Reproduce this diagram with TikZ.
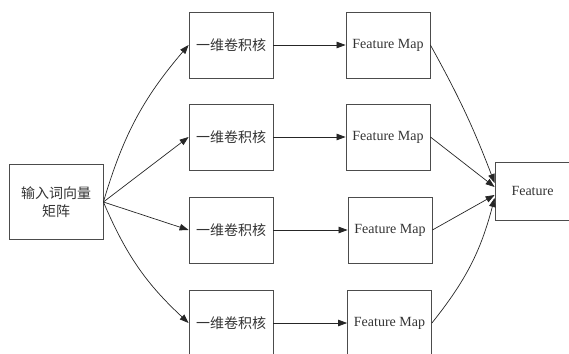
\documentclass[tikz,border=0pt]{standalone}
\usepackage{fontspec}
\setmainfont{Liberation Serif}
\newfontfamily\cjk{Noto Sans CJK SC}
\usetikzlibrary{arrows.meta}
\begin{document}
\begin{tikzpicture}[x=1pt,y=-1pt,
  box/.style={draw=black!70, line width=0.8pt, minimum width=84pt, minimum height=66pt, inner sep=0pt, text=black!80, font=\fontsize{14}{18}\selectfont},
  cbox/.style={box, font=\fontsize{14}{18}\selectfont\cjk},
  arr/.style={-{Triangle[length=9pt,width=6.5pt]}, line width=0.7pt, draw=black!85}]
\useasboundingbox (0,0) rectangle (569,353);
\clip (0,0) rectangle (569,353);
\node[cbox, minimum width=94pt, minimum height=75pt, align=center] (in) at (56,202) {输入词向量\\矩阵};
\node[cbox] (c1) at (231,45) {一维卷积核};
\node[cbox] (c2) at (231,137) {一维卷积核};
\node[cbox] (c3) at (231,230) {一维卷积核};
\node[cbox] (c4) at (231,323) {一维卷积核};
\node[box] (m1) at (388,45) {Feature Map};
\node[box] (m2) at (388,137) {Feature Map};
\node[box] (m3) at (390,230) {Feature Map};
\node[box] (m4) at (389.5,323) {Feature Map};
\node[box, minimum width=75pt, minimum height=58pt] (F) at (532.5,191) {Feature};
\draw[arr] (in.east) to[bend left=12] (c1.west);
\draw[arr] (in.east) -- (c2.west);
\draw[arr] (in.east) -- (c3.west);
\draw[arr] (in.east) to[bend right=12] (c4.west);
\draw[arr] (c1.east) -- (m1.west);
\draw[arr] (c2.east) -- (m2.west);
\draw[arr] (c3.east) -- (m3.west);
\draw[arr] (c4.east) -- (m4.west);
\draw[arr] (m1.east) to[bend left=4] ([yshift=8pt]F.west);
\draw[arr] (m2.east) -- ([yshift=4pt]F.west);
\draw[arr] (m3.east) -- ([yshift=-4pt]F.west);
\draw[arr] (m4.east) to[bend right=12] ([yshift=-7pt]F.west);
\end{tikzpicture}
\end{document}
